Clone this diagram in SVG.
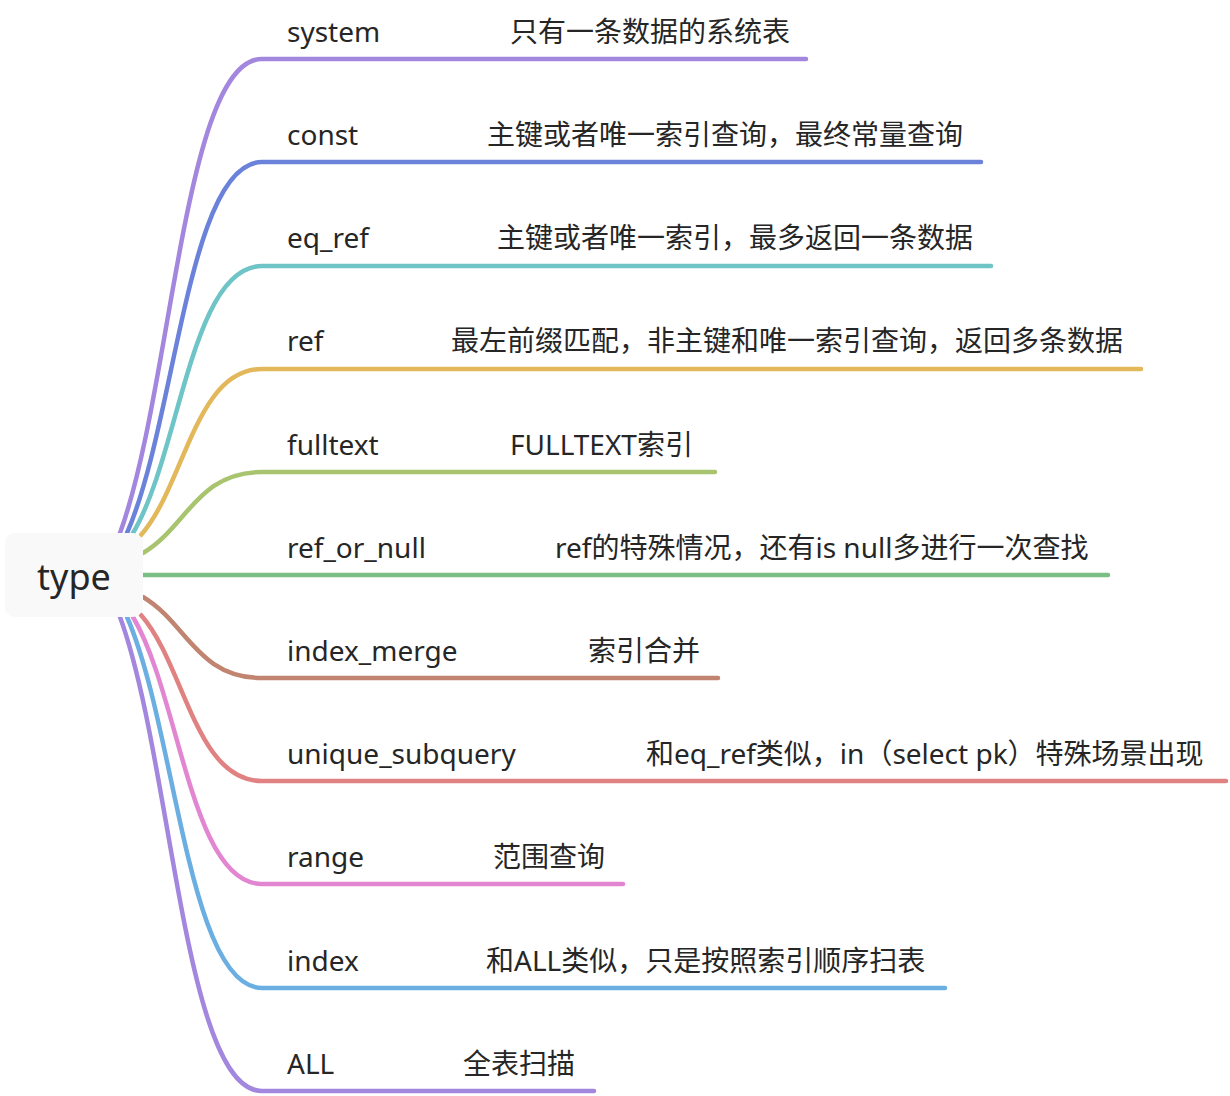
<svg xmlns="http://www.w3.org/2000/svg" width="1230" height="1096" viewBox="0 0 1230 1096">
<style>
.t{font-family:"Noto Sans","Noto Sans CJK SC",sans-serif;font-size:28px;fill:#262626}
.c{fill:none;stroke-width:4.5;stroke-linecap:round}
.root{font-family:"Noto Sans","Noto Sans CJK SC",sans-serif;font-size:36px;fill:#262626}
</style>
<rect width="1230" height="1096" fill="#ffffff"/>
<g id="connectors">
<path class="c" stroke="#a386de" d="M120,533 C172,391 184,59 262,59 L806,59"/>
<path class="c" stroke="#6b82db" d="M127,533 C176,421 188,162 262,162 L981,162"/>
<path class="c" stroke="#6ec4c6" d="M133,533 C180,454 191,266 262,266 L991,266"/>
<path class="c" stroke="#e2b85a" d="M141,535 C185,485 195,369 262,369 L1141,369"/>
<path class="c" stroke="#a8c46e" d="M143,553 C187,527 197,472 262,472 L715,472"/>
<path class="c" stroke="#7bbf84" d="M143,575 L1108,575"/>
<path class="c" stroke="#c08470" d="M143,597 C187,623 197,678 262,678 L718,678"/>
<path class="c" stroke="#e08282" d="M141,615 C185,665 195,781 262,781 L1226,781"/>
<path class="c" stroke="#e286d2" d="M133,617 C180,696 191,884 262,884 L623,884"/>
<path class="c" stroke="#6aaee2" d="M127,617 C176,729 188,988 262,988 L945,988"/>
<path class="c" stroke="#a386de" d="M120,617 C172,759 184,1091 262,1091 L594,1091"/>
</g>
<g id="root">
<rect x="5" y="533" width="138" height="84" rx="10" fill="#f9f9f9"/>
<text class="root" x="74" y="590" text-anchor="middle">type</text>
</g>
<g id="n-system"><text class="t" x="287" y="42">system</text><text class="t" x="510" y="42">只有一条数据的系统表</text></g>
<g id="n-const"><text class="t" x="287" y="145">const</text><text class="t" x="487" y="145">主键或者唯一索引查询，最终常量查询</text></g>
<g id="n-eq_ref"><text class="t" x="287" y="248">eq_ref</text><text class="t" x="497" y="248">主键或者唯一索引，最多返回一条数据</text></g>
<g id="n-ref"><text class="t" x="287" y="351">ref</text><text class="t" x="451" y="351">最左前缀匹配，非主键和唯一索引查询，返回多条数据</text></g>
<g id="n-fulltext"><text class="t" x="287" y="455">fulltext</text><text class="t" x="510" y="455">FULLTEXT索引</text></g>
<g id="n-ref_or_null"><text class="t" x="287" y="558">ref_or_null</text><text class="t" x="555" y="558">ref的特殊情况，还有is null多进行一次查找</text></g>
<g id="n-index_merge"><text class="t" x="287" y="661">index_merge</text><text class="t" x="588" y="661">索引合并</text></g>
<g id="n-unique_subquery"><text class="t" x="287" y="764">unique_subquery</text><text class="t" x="646" y="764">和eq_ref类似，in（select pk）特殊场景出现</text></g>
<g id="n-range"><text class="t" x="287" y="867">range</text><text class="t" x="493" y="867">范围查询</text></g>
<g id="n-index"><text class="t" x="287" y="971">index</text><text class="t" x="486" y="971">和ALL类似，只是按照索引顺序扫表</text></g>
<g id="n-ALL"><text class="t" x="287" y="1074">ALL</text><text class="t" x="463" y="1074">全表扫描</text></g>
</svg>
